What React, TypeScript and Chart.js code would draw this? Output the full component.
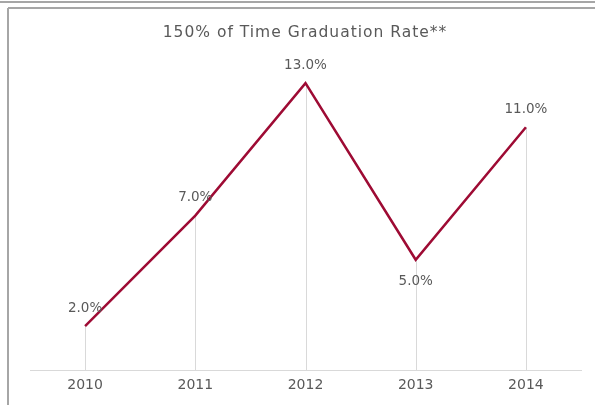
import React, { useEffect, useRef } from "react";
import { Chart, registerables } from "chart.js";

Chart.register(...registerables);

const TITLE = "150% of Time Graduation Rate**";
const YEARS = ["2010", "2011", "2012", "2013", "2014"];
const RATES = [2, 7, 13, 5, 11];
const LABEL_BELOW = [false, false, false, true, false];

const TEXT = "#595959";
const LINE = "#9E0B34";
const FONT = "'DejaVu Sans', sans-serif";

const framePlugin = {
  id: "frame",
  beforeDraw(chart: any) {
    const ctx = chart.ctx;
    ctx.save();
    ctx.fillStyle = "#ffffff";
    ctx.fillRect(0, 0, chart.width, chart.height);
    ctx.strokeStyle = "#a6a6a6";
    ctx.lineWidth = 2;
    ctx.beginPath();
    ctx.moveTo(0, 2);
    ctx.lineTo(chart.width, 2);
    ctx.moveTo(8, 8);
    ctx.lineTo(chart.width, 8);
    ctx.moveTo(8, 8);
    ctx.lineTo(8, chart.height);
    ctx.stroke();
    ctx.fillStyle = TEXT;
    ctx.font = "15.5px " + FONT;
    (ctx as any).letterSpacing = "1px";
    ctx.textAlign = "center";
    ctx.textBaseline = "middle";
    ctx.fillText(TITLE, 305, 33);
    ctx.restore();
  },
  beforeDatasetsDraw(chart: any) {
    const ctx = chart.ctx;
    const meta = chart.getDatasetMeta(0);
    ctx.save();
    ctx.strokeStyle = "#d9d9d9";
    ctx.lineWidth = 1;
    meta.data.forEach((p: any) => {
      const x = Math.round(p.x) + 0.5;
      ctx.beginPath();
      ctx.moveTo(x, p.y);
      ctx.lineTo(x, chart.chartArea.bottom);
      ctx.stroke();
    });
    ctx.restore();
  },
  afterDatasetsDraw(chart: any) {
    const ctx = chart.ctx;
    const meta = chart.getDatasetMeta(0);
    ctx.save();
    ctx.fillStyle = TEXT;
    ctx.font = "13.5px " + FONT;
    ctx.textAlign = "center";
    ctx.textBaseline = "middle";
    meta.data.forEach((p: any, i: number) => {
      const v = RATES[i];
      const dy = LABEL_BELOW[i] ? 22 : -18;
      ctx.fillText(v.toFixed(1) + "%", p.x, p.y + dy);
    });
    ctx.restore();
  },
};

export default function App() {
  const ref = useRef<HTMLCanvasElement>(null);
  useEffect(() => {
    if (!ref.current) return;
    const chart = new Chart(ref.current, {
      type: "line",
      data: {
        labels: YEARS,
        datasets: [
          {
            data: RATES,
            borderColor: LINE,
            borderWidth: 2.5,
            pointRadius: 0,
            tension: 0,
            fill: false,
          },
        ],
      },
      options: {
        responsive: false,
        animation: false,
        layout: { padding: { left: 30, right: 14, top: 61, bottom: 4 } },
        plugins: { legend: { display: false }, tooltip: { enabled: false }, title: { display: false } },
        scales: {
          x: {
            offset: true,
            grid: { display: false, drawTicks: false },
            border: { display: true, color: "#d9d9d9", width: 1 },
            ticks: { color: TEXT, font: { family: FONT, size: 14 }, padding: 7 },
          },
          y: { display: false, min: 0, max: 14 },
        },
      },
      plugins: [framePlugin],
    });
    return () => chart.destroy();
  }, []);
  return (
    <div style={{ position: "absolute", left: 0, top: 0, width: 595, height: 405 }}>
      <canvas ref={ref} width={595} height={405} />
    </div>
  );
}
